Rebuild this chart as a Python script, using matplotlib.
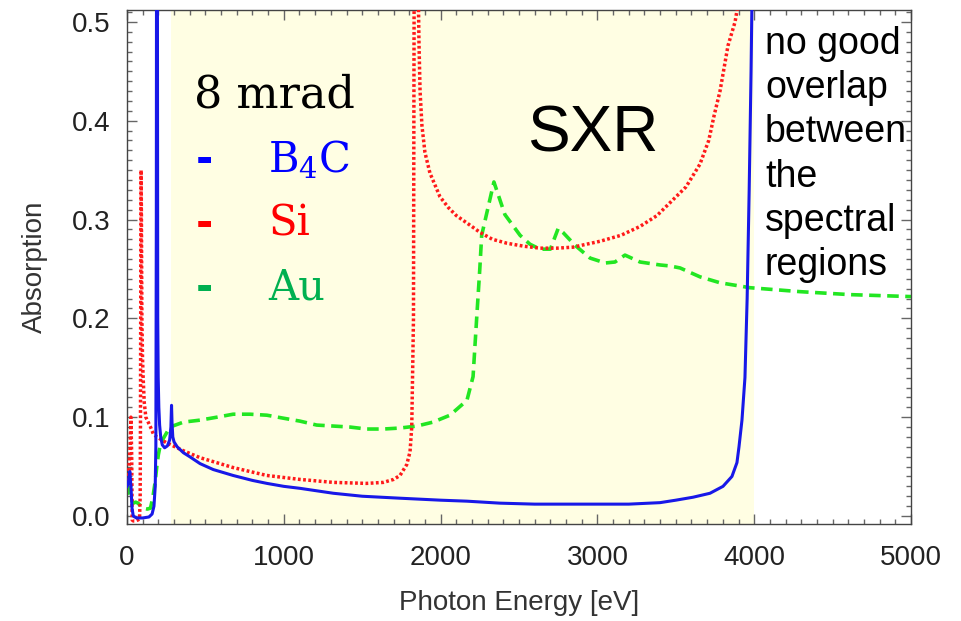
import matplotlib
matplotlib.use("Agg")
import matplotlib.pyplot as plt
from matplotlib.ticker import MultipleLocator, FormatStrFormatter

# ---------------- data ----------------
e_b4c = [0, 8, 18, 25, 32, 40, 60, 100, 140, 160, 172, 180, 184, 187, 189, 193,
         196, 199, 203, 208, 215, 225, 240, 258, 272, 280, 284, 287, 292, 300,
         320, 360, 400, 466, 550, 677, 800, 892, 1000, 1103, 1316, 1500, 1741,
         2000, 2168, 2378, 2600, 2800, 3000, 3200, 3399, 3500, 3610, 3718, 3801,
         3858, 3890, 3903, 3922, 3941, 3955, 3968, 3980, 3992]
b4c = [0.030, 0.033, 0.045, 0.030, 0.008, 0.000, -0.002, -0.002, -0.001, 0.002,
       0.010, 0.030, 0.070, 0.300, 0.700, 0.700, 0.200, 0.140, 0.110, 0.092,
       0.080, 0.072, 0.069, 0.071, 0.077, 0.090, 0.112, 0.095, 0.080, 0.075,
       0.070, 0.064, 0.060, 0.053, 0.047, 0.041, 0.036, 0.033, 0.030, 0.028,
       0.023, 0.020, 0.018, 0.016, 0.015, 0.013, 0.012, 0.012, 0.012, 0.012,
       0.0135, 0.016, 0.019, 0.023, 0.030, 0.040, 0.054, 0.070, 0.097, 0.140,
       0.220, 0.330, 0.450, 0.600]

e_si = [0, 8, 20, 25, 30, 33, 40, 55, 70, 80, 84, 86, 88, 90, 92, 95, 99, 103,
        110, 120, 135, 150, 168, 190, 253, 360, 466, 677, 892, 1103, 1316, 1528,
        1635, 1700, 1741, 1784, 1805, 1816, 1827, 1832, 1850, 1856, 1862, 1869,
        1881, 1900, 1932, 1996, 2050, 2100, 2190, 2251, 2330, 2423, 2530, 2634,
        2740, 2844, 2930, 3017, 3150, 3272, 3380, 3463, 3565, 3654, 3710, 3744,
        3782, 3833, 3878, 3910]
si = [0.030, 0.037, 0.070, 0.100, 0.060, -0.004, -0.005, -0.005, -0.004, -0.003,
      0.020, 0.100, 0.250, 0.350, 0.300, 0.200, 0.160, 0.140, 0.115, 0.100,
      0.095, 0.090, 0.083, 0.080, 0.074, 0.066, 0.059, 0.049, 0.041, 0.037,
      0.034, 0.033, 0.034, 0.037, 0.041, 0.052, 0.065, 0.090, 0.200, 0.600,
      0.800, 0.550, 0.480, 0.430, 0.395, 0.368, 0.347, 0.323, 0.312, 0.304,
      0.294, 0.287, 0.280, 0.276, 0.273, 0.271, 0.271, 0.272, 0.275, 0.278,
      0.284, 0.293, 0.304, 0.317, 0.333, 0.356, 0.380, 0.405, 0.430, 0.476,
      0.500, 0.530]

e_au = [0, 10, 19, 30, 40, 55, 70, 100, 130, 150, 166, 180, 190, 200, 210, 230,
        274, 360, 466, 574, 677, 784, 892, 996, 1103, 1210, 1316, 1422, 1528,
        1635, 1741, 1848, 1952, 2060, 2168, 2207, 2230, 2250, 2262, 2340, 2410,
        2507, 2570, 2634, 2700, 2750, 2780, 2857, 2953, 3050, 3112, 3176, 3272,
        3400, 3463, 3527, 3654, 3782, 3973, 4292, 4611, 5000]
au = [0.033, 0.028, 0.021, 0.016, 0.013, 0.014, 0.013, 0.008, 0.007, 0.008,
      0.020, 0.035, 0.050, 0.062, 0.070, 0.078, 0.090, 0.095, 0.097, 0.100,
      0.103, 0.103, 0.102, 0.099, 0.096, 0.092, 0.091, 0.090, 0.088, 0.088,
      0.089, 0.091, 0.095, 0.102, 0.117, 0.141, 0.200, 0.250, 0.284, 0.338,
      0.305, 0.284, 0.275, 0.270, 0.270, 0.291, 0.287, 0.274, 0.261, 0.256,
      0.257, 0.264, 0.257, 0.254, 0.253, 0.251, 0.242, 0.236, 0.231, 0.227,
      0.224, 0.222]

sxr_band = (280, 4000)
legend_names = ["B$_4$C", "Si", "Au"]
legend_colors = ["#0000ff", "#ff0000", "#00b050"]
note_lines = ["no good", "overlap", "between", "the", "spectral", "regions"]

# ---------------- figure ----------------
plt.rcParams["mathtext.fontset"] = "dejavuserif"

W, H = 962, 621
fig = plt.figure(figsize=(W / 100, H / 100), dpi=100)
ax = fig.add_axes([127 / W, 1 - 524 / H, (911 - 127) / W, (524 - 10) / H])

ax.axvspan(*sxr_band, color="#fffee3", zorder=0, lw=0)

ax.plot(e_au, au, color="#22e622", lw=2.6, linestyle=(0, (3.2, 1.8)), zorder=2)
ax.plot(e_si, si, color="#ff1a1a", lw=2.5, linestyle=(0, (0.8, 0.7)), zorder=3)
ax.plot(e_b4c, b4c, color="#1818e8", lw=2.2, zorder=4)

ax.set_xlim(0, 5000)
ax.set_ylim(-0.0081, 0.512)
ax.xaxis.set_major_locator(MultipleLocator(1000))
ax.xaxis.set_minor_locator(MultipleLocator(100))
ax.yaxis.set_major_locator(MultipleLocator(0.1))
ax.yaxis.set_minor_locator(MultipleLocator(0.01))
ax.yaxis.set_major_formatter(FormatStrFormatter("%.1f"))

for sp in ax.spines.values():
    sp.set_color("#444444")
    sp.set_linewidth(1.0)

ax.tick_params(which="both", direction="in", top=True, right=True,
               color="#666666", width=1.0)
ax.tick_params(which="major", length=7)
ax.tick_params(which="minor", length=3.5)
ax.tick_params(axis="x", which="major", pad=15, labelsize=20, labelcolor="#222222")
ax.tick_params(axis="y", which="major", pad=12, labelsize=20, labelcolor="#222222")
for lab in ax.get_xticklabels() + ax.get_yticklabels():
    lab.set_fontfamily("Liberation Sans")

ax.set_xlabel("Photon Energy [eV]", fontsize=20, color="#333333",
              family="Liberation Sans", labelpad=14)
ax.set_ylabel("Absorption", fontsize=20, color="#333333",
              family="Liberation Sans", labelpad=17)


def px(x, y):
    return x / W, 1 - y / H


# legend-style annotation
fig.text(*px(194, 107), "8 mrad", family="DejaVu Serif", fontsize=32,
         color="black", va="baseline", ha="left")
for i, (name, col) in enumerate(zip(legend_names, legend_colors)):
    yb = 172 + i * 64
    fig.text(*px(196, yb), "-", family="DejaVu Serif", fontsize=30,
             fontweight="bold", color=col, va="baseline", ha="left")
    fig.text(*px(268, yb), name, family="DejaVu Serif", fontsize=30,
             color=col, va="baseline", ha="left")

fig.text(*px(593, 152), "SXR", family="Liberation Sans", fontsize=46,
         color="black", va="baseline", ha="center")

for i, line in enumerate(note_lines):
    fig.text(*px(765, 54 + i * 44.2), line, family="Liberation Sans",
             fontsize=27, color="black", va="baseline", ha="left")

fig.savefig("out.png", dpi=100)
